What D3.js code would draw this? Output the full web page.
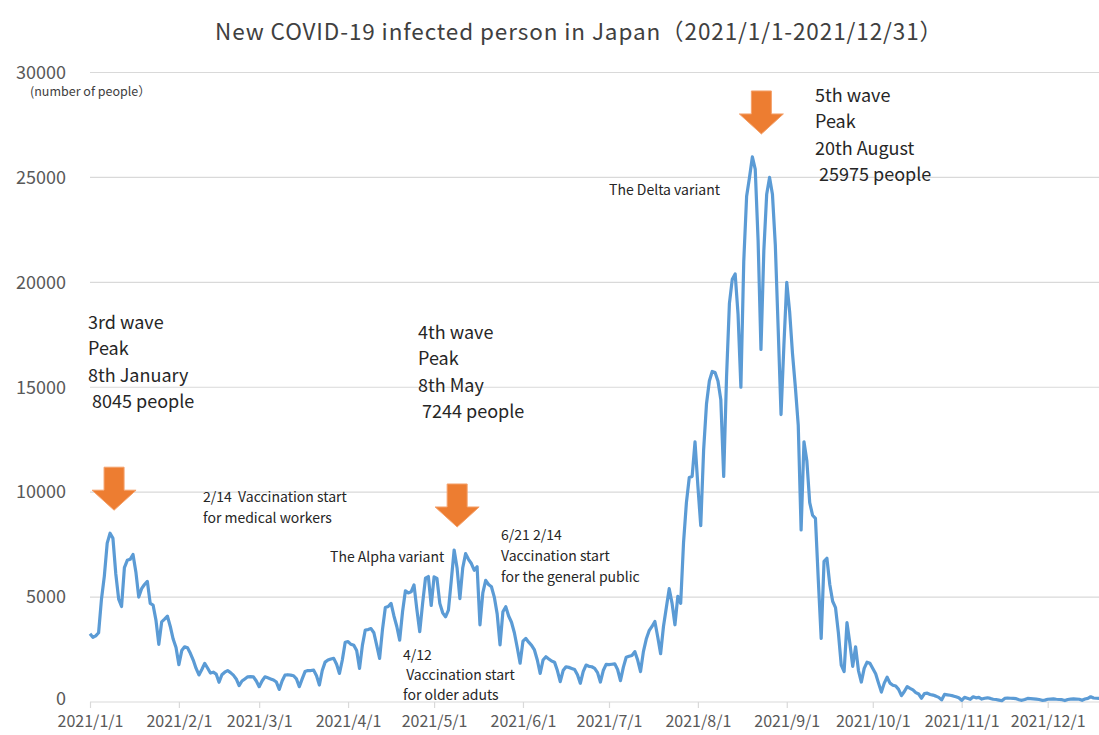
<!DOCTYPE html>
<html>
<head>
<meta charset="utf-8">
<script src="https://cdn.jsdelivr.net/npm/d3@7"></script>
<style>
  html, body { margin: 0; padding: 0; background: #fff; }
  svg { display: block; font-family: "Noto Sans CJK JP", "Noto Sans", sans-serif; }
</style>
</head>
<body>
<svg id="chart" width="1099" height="735"></svg>
<script>
// Daily new cases, one array per month
const jan = [3250, 3080, 3150, 3300, 4900, 6000, 7570, 8045, 7800, 6100, 4900, 4550, 6400, 6750, 6800, 7030,
  6200, 5000, 5400, 5600, 5750, 4700, 4620, 3900, 2750, 3820, 3950, 4090, 3600, 3000, 2600];
const feb = [1780, 2450, 2630, 2580, 2320, 2000, 1600, 1290, 1550, 1840, 1620, 1380, 1420, 1330, 940, 1300,
  1420, 1500, 1400, 1280, 1100, 780, 1000, 1100, 1200, 1210, 1200, 1000];
const mar = [730, 1000, 1200, 1150, 1100, 1050, 950, 600, 1000, 1280, 1300, 1280, 1250, 1100, 730, 1100,
  1450, 1500, 1500, 1520, 1250, 810, 1500, 1900, 2000, 2050, 2080, 1800, 1360, 2000, 2850];
const apr = [2880, 2750, 2700, 2450, 1600, 2700, 3430, 3450, 3500, 3300, 2700, 2080, 3450, 4500, 4550, 4700,
  4100, 3600, 2950, 4300, 5300, 5200, 5250, 5580, 4400, 3350, 4700, 5900, 5980, 4600];
const may = [5960, 5890, 4700, 4250, 4060, 4380, 5800, 7244, 6400, 4930, 6400, 7070, 6800, 6600, 6280, 6450,
  3680, 5200, 5800, 5600, 5490, 5000, 4200, 2720, 4300, 4540, 4100, 3800, 3300, 2600, 1850];
const jun = [2900, 3030, 2850, 2700, 2480, 2000, 1360, 2000, 2160, 2050, 1950, 1900, 1500, 970, 1500, 1680,
  1650, 1600, 1550, 1300, 890, 1450, 1760, 1700, 1680, 1600, 1400, 950, 1500, 1790];
const jul = [1780, 1800, 1820, 1550, 1020, 1650, 2130, 2180, 2220, 2400, 2000, 1450, 2400, 3000, 3400, 3600,
  3840, 3100, 2300, 3600, 4500, 5400, 4700, 3680, 5030, 4700, 7600, 9500, 10700, 10750, 12400];
const aug = [10300, 8400, 12000, 14200, 15300, 15750, 15700, 15300, 14400, 10750, 15500, 19000, 20150, 20400,
  18500, 15000, 21000, 24100, 25000, 25975, 25400, 22000, 16800, 21500, 24200, 25000, 24200, 21800, 17800,
  13700, 17000];
const sep = [20000, 18600, 16600, 15000, 13200, 8200, 12400, 11500, 9500, 8900, 8750, 5800, 3030, 6700, 6850,
  5600, 4800, 4500, 3300, 1760, 1450, 3780, 2800, 1700, 2630, 1500, 950, 1600, 1900, 1850];
const oct = [1600, 1350, 900, 470, 900, 1180, 900, 800, 760, 600, 300, 500, 730, 650, 580, 450, 380, 180, 400,
  420, 360, 330, 280, 220, 100, 360, 340, 320, 290, 250, 200];
const nov = [80, 220, 180, 130, 250, 200, 220, 140, 180, 200, 170, 130, 120, 90, 60, 170, 190, 180, 170, 160,
  110, 80, 120, 170, 160, 150, 140, 120, 80, 90];
const dec = [130, 140, 150, 130, 120, 110, 70, 120, 140, 150, 140, 130, 80, 140, 170, 250, 190, 180, 170, 110,
  180, 250, 240, 270, 260, 200, 150, 300, 400, 500, 480];

const months = [jan, feb, mar, apr, may, jun, jul, aug, sep, oct, nov, dec];
const yTicks = [0, 5000, 10000, 15000, 20000, 25000, 30000];

const chartTitle = "New COVID-19 infected person in Japan（2021/1/1-2021/12/31）";
const yUnit = "(number of people）";

// wave peaks marked with an arrow
const peaks = [
  { date: new Date(Date.UTC(2021, 0, 8)), value: 8045 },
  { date: new Date(Date.UTC(2021, 4, 8)), value: 7244 },
  { date: new Date(Date.UTC(2021, 7, 20)), value: 25975 },
];

// flatten months into dated points
const data = [];
months.forEach((vals, m) => {
  vals.forEach((v, i) => data.push({ date: new Date(Date.UTC(2021, m, i + 1)), value: v }));
});

const svg = d3.select("#chart");
const width = 1099, height = 735;

const x = d3.scaleUtc()
  .domain([new Date(Date.UTC(2021, 0, 1)), new Date(Date.UTC(2021, 11, 1))])
  .range([90, 1047.7]);
const y = d3.scaleLinear().domain([0, 30000]).range([702, 72.5]);

svg.append("rect").attr("width", width).attr("height", height).attr("fill", "#fff");

// gridlines
svg.append("g")
  .selectAll("line")
  .data(yTicks)
  .join("line")
  .attr("x1", 90)
  .attr("x2", width)
  .attr("y1", (d) => y(d))
  .attr("y2", (d) => y(d))
  .attr("stroke", "#d9d9d9")
  .attr("stroke-width", 1.2);

// y tick labels
svg.append("g")
  .selectAll("text")
  .data(yTicks)
  .join("text")
  .attr("x", 66)
  .attr("y", (d) => y(d) - (d === 0 ? 3 : 0))
  .attr("dy", "0.35em")
  .attr("text-anchor", "end")
  .attr("fill", "#595959")
  .attr("font-size", 18)
  .text((d) => d);

svg.append("text")
  .attr("x", 30)
  .attr("y", 96)
  .attr("fill", "#404040")
  .attr("font-size", 12.5)
  .text(yUnit);

// x axis
const monthStarts = d3.utcMonth.range(new Date(Date.UTC(2021, 0, 1)), new Date(Date.UTC(2022, 0, 1)));
const xAxis = d3.axisBottom(x)
  .tickValues(monthStarts)
  .tickSize(6)
  .tickPadding(8)
  .tickFormat(d3.utcFormat("%Y/%-m/%-d"));

const gx = svg.append("g").attr("transform", `translate(0,${y(0)})`).call(xAxis);
gx.select(".domain").remove();
gx.selectAll(".tick line").attr("stroke", "#d9d9d9").attr("stroke-width", 1.2);
gx.selectAll(".tick text")
  .attr("fill", "#595959")
  .attr("font-size", 16)
  .attr("font-family", "\"Noto Sans CJK JP\", \"Noto Sans\", sans-serif");

// the line
const line = d3.line()
  .x((d) => x(d.date))
  .y((d) => y(d.value));

svg.append("path")
  .datum(data)
  .attr("fill", "none")
  .attr("stroke", "#5b9bd5")
  .attr("stroke-width", 3.2)
  .attr("stroke-linejoin", "round")
  .attr("d", line);

// orange arrows above the peaks
const arrowOffsets = [4, 3, 9];
const arrowShape = (cx, tip) => {
  const hw = 22, sw = 10, headH = 20, total = 43;
  return `M${cx - sw},${tip - total} L${cx + sw},${tip - total} L${cx + sw},${tip - headH}` +
    ` L${cx + hw},${tip - headH} L${cx},${tip} L${cx - hw},${tip - headH} L${cx - sw},${tip - headH} Z`;
};
svg.append("g")
  .selectAll("path")
  .data(peaks)
  .join("path")
  .attr("d", (d, i) => arrowShape(x(d.date) + arrowOffsets[i], y(d.value) - 23))
  .attr("fill", "#ed7d31")
  .attr("stroke", "#f4a06a")
  .attr("stroke-width", 1);

// title
svg.append("text")
  .attr("x", 579)
  .attr("y", 40)
  .attr("text-anchor", "middle")
  .attr("fill", "#404040")
  .attr("font-size", 22.5)
  .attr("letter-spacing", 0.9)
  .text(chartTitle);

// annotations
const bigNotes = [
  { x: 88, y: 329, lines: ["3rd wave", "Peak", "8th January", " 8045 people"] },
  { x: 418, y: 339, lines: ["4th wave", "Peak", "8th May", " 7244 people"] },
  { x: 815, y: 102, lines: ["5th wave", "Peak", "20th August", " 25975 people"] },
];
const smallNotes = [
  { x: 609, y: 195, step: 21, lines: ["The Delta variant"] },
  { x: 203, y: 502, step: 21, lines: ["2/14  Vaccination start", "for medical workers"] },
  { x: 330, y: 562, step: 21, lines: ["The Alpha variant"] },
  { x: 501, y: 540, step: 21, lines: ["6/21 2/14", "Vaccination start", "for the general public"] },
  { x: 403, y: 660, step: 20, lines: ["4/12", " Vaccination start", "for older aduts"] },
];

bigNotes.forEach((n) => {
  const t = svg.append("text").attr("fill", "#262626").attr("font-size", 18).attr("xml:space", "preserve");
  n.lines.forEach((s, i) => {
    t.append("tspan").attr("x", n.x).attr("y", n.y + i * 26.3).text(s);
  });
});
smallNotes.forEach((n) => {
  const t = svg.append("text").attr("fill", "#262626").attr("font-size", 14).attr("xml:space", "preserve");
  n.lines.forEach((s, i) => {
    t.append("tspan").attr("x", n.x).attr("y", n.y + i * n.step).text(s);
  });
});
</script>
</body>
</html>
